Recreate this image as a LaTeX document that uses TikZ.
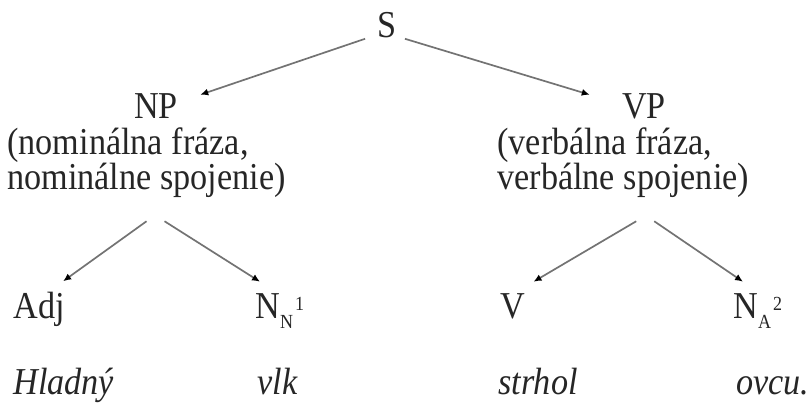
\documentclass[tikz,border=0pt]{standalone}
\usepackage{fontspec}
\setmainfont[FakeStretch=0.9]{Liberation Serif}
\usetikzlibrary{arrows.meta}
\tikzset{lbl/.style = {inner sep = 0, text = black!85, font = {\fontsize{19}{17.5}\selectfont}}}
\tikzset{arr/.style = {draw = black!55, line width = 0.85pt, -{Latex[length = 4pt, width = 3.5pt, color = black]}}}
\newcommand{\lowidx}[1]{\raisebox{-5pt}{\fontsize{10}{10}\selectfont #1}}
\newcommand{\highidx}[1]{\raisebox{4pt}{\fontsize{10}{10}\selectfont #1}}

\begin{document}
\begin{tikzpicture}[x=0.5pt, y=-0.5pt]
      \useasboundingbox (0,0) rectangle (812,403);
      \node[lbl, anchor=base] (s) at (387,37) {S};
      \node[lbl, anchor=base] (np) at (156,118) {NP};
      \node[lbl, anchor=base] (vp) at (644,118) {VP};
      \node[lbl, anchor=north west, align=left] (npd) at (7,127.6) {(nominálna fráza,\\nominálne spojenie)};
      \node[lbl, anchor=north west, align=left] (vpd) at (497,127.6) {(verbálna fráza,\\verbálne spojenie)};
      \node[lbl, anchor=base west] (adj) at (13,318) {Adj};
      \node[lbl, anchor=base west] (nn) at (255,318) {N\lowidx{N}\kern1pt\highidx{1}};
      \node[lbl, anchor=base west] (v) at (500,318) {V};
      \node[lbl, anchor=base west] (na) at (733,318) {N\lowidx{A}\kern1pt\highidx{2}};
      \node[lbl, anchor=base west] (w1) at (13,394) {\itshape Hladný};
      \node[lbl, anchor=base west] (w2) at (257,394) {\itshape vlk};
      \node[lbl, anchor=base west] (w3) at (498,394) {\itshape strhol};
      \node[lbl, anchor=base west] (w4) at (736,394) {\itshape ovcu.};
      \draw[arr] ([shift={(-12,1)}]s.south west) -- ([shift={(22,2)}]np.north east);
      \draw[arr] ([shift={(8,1)}]s.south east) -- ([shift={(-32,2)}]vp.north west);
      \draw[arr] ([shift={(0,23)}]npd.south) -- ([shift={(-2,-10)}]adj.north east);
      \draw[arr] ([shift={(18,23)}]npd.south) -- ([shift={(5,-11)}]nn.north west);
      \draw[arr] ([shift={(13,23)}]vpd.south) -- ([shift={(8,-11)}]v.north east);
      \draw[arr] ([shift={(31,23)}]vpd.south) -- ([shift={(10,-11)}]na.north west);
    \end{tikzpicture}
\end{document}
